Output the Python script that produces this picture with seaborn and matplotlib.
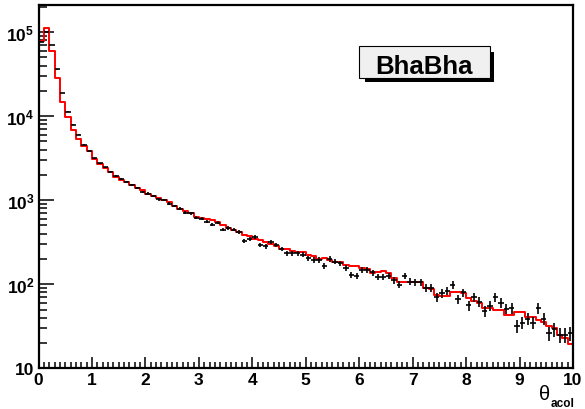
import numpy as np
import pandas as pd
import matplotlib
matplotlib.use("Agg")
import matplotlib.pyplot as plt
import seaborn as sns
from matplotlib.patches import Rectangle
from matplotlib.ticker import FixedLocator, MultipleLocator, LogLocator, NullFormatter, FuncFormatter

# ---------------- data ----------------
n_bins = 100
x_range = (0, 10)

mc_counts = [
    79400, 112200, 60300, 28800, 14800, 9770, 6920, 5370, 4470, 3800,
    3090, 2690, 2400, 2190, 1910, 1760, 1660, 1510, 1380, 1320,
    1200, 1120, 1050, 1000, 955, 861, 794, 752, 708, 631,
    617, 603, 575, 556, 501, 468, 447, 417, 389, 372,
    347, 339, 316, 302, 282, 263, 263, 251, 245, 240,
    224, 219, 200, 204, 195, 184, 184, 170, 166, 166,
    155, 151, 135, 141, 145, 135, 120, 107, 107, 107,
    107, 105, 89, 87, 74, 72, 72, 81, 81, 79,
    69, 63, 60, 52, 52, 50, 50, 43, 43, 47,
    47, 41, 41, 38, 36, 32, 30, 25, 23, 19.5,
]

data_counts = [
    75900, 100000, 70800, 35900, 18900, 11350, 7870, 5980, 4570, 3800,
    3160, 2750, 2450, 2190, 1950, 1780, 1660, 1510, 1380, 1260,
    1200, 1120, 1020, 1000, 912, 851, 794, 708, 700, 617,
    603, 556, 513, 537, 447, 465, 447, 417, 331, 347,
    363, 295, 282, 316, 295, 263, 234, 234, 234, 224,
    204, 195, 195, 166, 200, 186, 178, 158, 129, 126,
    148, 148, 138, 123, 123, 126, 112, 99, 126, 107,
    105, 105, 91, 91, 70, 78, 83, 98, 67, 80,
    56, 70, 62, 48, 55, 70, 60, 51, 52, 32,
    35, 39, 35, 52, 39, 26, 29, 25, 25, 26,
]

y_ticks = [10, 1e2, 1e3, 1e4, 1e5]
x_ticks = list(range(0, 11))
legend_label = "BhaBha"
xlabel_main = "θ"
xlabel_sub = "acol"

# ---------------- style ----------------
sns.set_theme(style="white")
plt.rcParams["font.family"] = ["Liberation Sans", "DejaVu Sans"]
plt.rcParams["mathtext.fontset"] = "custom"
plt.rcParams["mathtext.rm"] = "Liberation Sans"
plt.rcParams["mathtext.bf"] = "Liberation Sans:bold"
plt.rcParams["mathtext.it"] = "Liberation Sans:italic"

W, H = 585, 410
fig = plt.figure(figsize=(W / 100, H / 100), dpi=100)
fig.patch.set_facecolor("white")

x0, x1, ytop, ybot = 38.5, 573, 6, 369.3
ax = fig.add_axes([x0 / W, 1 - ybot / H, (x1 - x0) / W, (ybot - ytop) / H])
ax.set_facecolor("white")

bin_w = (x_range[1] - x_range[0]) / n_bins
centers = x_range[0] + bin_w * (np.arange(n_bins) + 0.5)
df_mc = pd.DataFrame({"theta": centers, "w": np.array(mc_counts, dtype=float)})
sns.histplot(data=df_mc, x="theta", weights="w", bins=n_bins, binrange=x_range,
             element="step", fill=False, color="#ff0000", linewidth=1.4, ax=ax)

dc = np.array(data_counts, dtype=float)
ax.errorbar(centers, dc, xerr=bin_w / 2, yerr=np.sqrt(dc), fmt="none",
            ecolor="black", elinewidth=1.2, capsize=0, zorder=3)

ax.set_yscale("log")
ax.set_xlim(*x_range)
ax.set_ylim(10, 2.1e5)
ax.set_xlabel("")
ax.set_ylabel("")

for s in ax.spines.values():
    s.set_linewidth(1.6)
    s.set_color("black")

ax.xaxis.set_major_locator(FixedLocator(x_ticks))
ax.xaxis.set_minor_locator(MultipleLocator(0.1))
ax.yaxis.set_major_locator(FixedLocator(y_ticks))
ax.yaxis.set_minor_locator(LogLocator(base=10, subs=np.arange(2, 10), numticks=30))
ax.yaxis.set_minor_formatter(NullFormatter())


def yfmt(v, pos):
    e = int(round(np.log10(v)))
    if e == 1:
        return "10"
    return r"$\mathbf{10^{%d}}$" % e


ax.yaxis.set_major_formatter(FuncFormatter(yfmt))
ax.xaxis.set_major_formatter(FuncFormatter(lambda v, p: "%d" % v))

ax.tick_params(axis="both", which="both", direction="in", top=False, right=False,
               left=True, bottom=True, colors="black", width=1.1)
ax.tick_params(axis="x", which="major", length=8, pad=3, labelsize=12.5)
ax.tick_params(axis="x", which="minor", length=4)
ax.tick_params(axis="y", which="major", length=10.5, pad=3, labelsize=12.5)
ax.tick_params(axis="y", which="minor", length=5.5)
for lab in ax.get_xticklabels() + ax.get_yticklabels():
    lab.set_fontweight("bold")

# x axis title: theta with bold subscript
fig.text(550.5 / W, 1 - 400 / H, xlabel_main, ha="right", va="baseline",
         fontsize=14.5, color="black")
fig.text(550.5 / W, 1 - 407 / H, xlabel_sub, ha="left", va="baseline",
         fontsize=8.5, fontweight="bold", color="black")

# legend box with shadow
bx0, by0, bx1, by1 = 359.3, 46.7, 490, 79.3
shadow = Rectangle((365 / W, 1 - 83.3 / H), (494 - 365) / W, (83.3 - 52.7) / H,
                   transform=fig.transFigure, facecolor="black", edgecolor="none", zorder=5)
box = Rectangle((bx0 / W, 1 - by1 / H), (bx1 - bx0) / W, (by1 - by0) / H,
                transform=fig.transFigure, facecolor="#f0f0f0", edgecolor="black",
                linewidth=0.8, zorder=6)
fig.add_artist(shadow)
fig.add_artist(box)
fig.text(424 / W, 1 - 66.7 / H, legend_label, ha="center", va="center",
         fontsize=18.5, fontweight="bold", color="black", zorder=7)

fig.savefig("out.png", dpi=100, facecolor="white")
